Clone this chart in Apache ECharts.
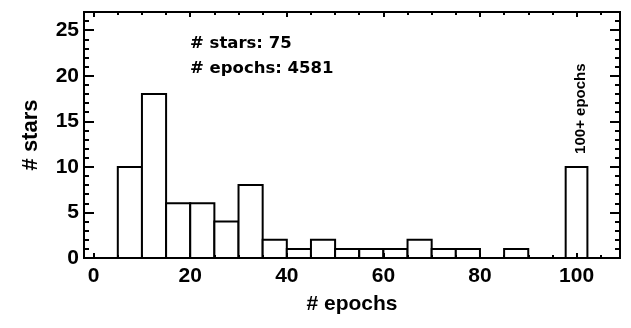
<!DOCTYPE html>
<html>
<head>
<meta charset="utf-8">
<script src="https://cdn.jsdelivr.net/npm/echarts@6/dist/echarts.min.js"></script>
<style>
  html, body { margin: 0; padding: 0; background: #fff; }
  #chart { width: 631px; height: 328px; }
</style>
</head>
<body>
<div id="chart"></div>
<script>
// Histogram of observation epochs per star, 5-epoch bins
const binStarts = [5, 10, 15, 20, 25, 30, 35, 40, 45, 50, 55, 60, 65, 70, 75, 80, 85, 90, 95];
const binWidth = 5;
const starCounts = [10, 18, 6, 6, 4, 8, 2, 1, 2, 1, 1, 1, 2, 1, 1, 0, 1, 0, 0];
// stars with 100 or more epochs, drawn as one bar around 100
const overflowRange = [97.75, 102.25];
const overflowCount = 10;
const overflowLabel = '100+ epochs';

const totalStars = 75;
const totalEpochs = 4581;

const xRange = [-2, 109];
const yRange = [0, 27];
const xMajorTicks = [0, 20, 40, 60, 80, 100];
const xMinorTicks = [5, 10, 15, 25, 30, 35, 45, 50, 55, 65, 70, 75, 85, 90, 95, 105];
const yMajorTicks = [0, 5, 10, 15, 20, 25];
const yMinorTicks = [1, 2, 3, 4, 6, 7, 8, 9, 11, 12, 13, 14, 16, 17, 18, 19, 21, 22, 23, 24, 26];

const AXIS_FONT = '"Liberation Sans", Arial, sans-serif';
const NOTE_FONT = '"DejaVu Sans", sans-serif';

const barData = binStarts
  .map((s, i) => [s, s + binWidth, starCounts[i], 0])
  .filter(d => d[2] > 0);
barData.push([overflowRange[0], overflowRange[1], overflowCount, 1]);

function makeXAxis(pos, ticks, len, labels) {
  return {
    type: 'value', gridIndex: 0, position: pos, min: xRange[0], max: xRange[1], z: 5,
    axisLine: { show: true, onZero: false, lineStyle: { color: '#000', width: 2 } },
    axisTick: { show: true, inside: true, length: len, customValues: ticks, lineStyle: { color: '#000', width: 2 } },
    axisLabel: labels ? {
      show: true, customValues: ticks, margin: 8, color: '#000',
      fontFamily: AXIS_FONT, fontWeight: 'bold', fontSize: 21
    } : { show: false },
    splitLine: { show: false }
  };
}
function makeYAxis(pos, ticks, len, labels) {
  return {
    type: 'value', gridIndex: 0, position: pos, min: yRange[0], max: yRange[1], z: 5,
    axisLine: { show: true, onZero: false, lineStyle: { color: '#000', width: 2 } },
    axisTick: { show: true, inside: true, length: len, customValues: ticks, lineStyle: { color: '#000', width: 2 } },
    axisLabel: labels ? {
      show: true, customValues: ticks, margin: 5, color: '#000',
      fontFamily: AXIS_FONT, fontWeight: 'bold', fontSize: 21
    } : { show: false },
    splitLine: { show: false }
  };
}

const xMain = makeXAxis('bottom', xMajorTicks, 5, true);
xMain.name = '# epochs';
xMain.nameLocation = 'middle';
xMain.nameGap = 36;
xMain.nameTextStyle = { color: '#000', fontFamily: AXIS_FONT, fontWeight: 'bold', fontSize: 21 };

const yMain = makeYAxis('left', yMajorTicks, 10, true);
yMain.name = '# stars';
yMain.nameLocation = 'middle';
yMain.nameGap = 42;
yMain.nameTextStyle = { color: '#000', fontFamily: AXIS_FONT, fontWeight: 'bold', fontSize: 22 };

const chart = echarts.init(document.getElementById('chart'), null, { renderer: 'canvas' });
chart.setOption({
  animation: false,
  backgroundColor: '#fff',
  grid: { left: 84, right: 11, top: 12, bottom: 70, containLabel: false },
  xAxis: [
    xMain,
    makeXAxis('bottom', xMinorTicks, 3, false),
    makeXAxis('top', xMajorTicks, 5, false),
    makeXAxis('top', xMinorTicks, 3, false)
  ],
  yAxis: [
    yMain,
    makeYAxis('left', yMinorTicks, 5, false),
    makeYAxis('right', yMajorTicks, 10, false),
    makeYAxis('right', yMinorTicks, 5, false)
  ],
  graphic: [
    {
      type: 'text', left: 190, top: 35, z: 10,
      style: { text: '# stars: ' + totalStars, fill: '#000', font: 'bold 16.5px ' + NOTE_FONT }
    },
    {
      type: 'text', left: 190, top: 60, z: 10,
      style: { text: '# epochs: ' + totalEpochs, fill: '#000', font: 'bold 16.5px ' + NOTE_FONT }
    }
  ],
  series: [{
    type: 'custom',
    xAxisIndex: 0,
    yAxisIndex: 0,
    z: 2,
    data: barData,
    encode: { x: [0, 1], y: 2 },
    renderItem: function (params, api) {
      const x0 = api.value(0), x1 = api.value(1), v = api.value(2);
      const top = api.coord([x0, v]);
      const bottom = api.coord([x1, 0]);
      const children = [{
        type: 'rect',
        shape: { x: top[0], y: top[1], width: bottom[0] - top[0], height: bottom[1] - top[1] },
        style: { fill: '#fff', stroke: '#000', lineWidth: 2 }
      }];
      if (api.value(3) === 1) {
        children.push({
          type: 'text',
          x: (top[0] + bottom[0]) / 2 + 4,
          y: top[1] - 13,
          rotation: Math.PI / 2,
          style: {
            text: overflowLabel, fill: '#000', font: 'bold 15px ' + AXIS_FONT,
            align: 'left', verticalAlign: 'middle'
          }
        });
      }
      return { type: 'group', children: children };
    }
  }]
});
</script>
</body>
</html>
